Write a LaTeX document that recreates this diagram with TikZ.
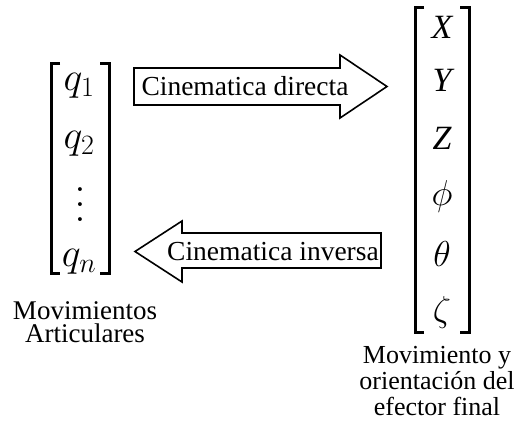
\RequirePackage{fix-cm}
\documentclass[tikz,border=0pt]{standalone}
\usepackage{fontspec}
\setmainfont{Liberation Serif}
\usepackage{amsmath}
\usepackage{tikz}
\usetikzlibrary{calc}
\tikzset{
  corchete/.style={line width=3pt,line join=miter},
  flecha/.style={draw,line width=1.6pt,line join=miter,fill=white},
  entrada/.style={inner sep=0pt,font=\fontsize{34}{40}\selectfont},
  rotulo/.style={inner sep=0pt,font=\fontsize{26}{26}\selectfont},
}
\newcommand{\puntosv}{\vbox{\baselineskip15pt\lineskiplimit0pt\hbox{$.$}\hbox{$.$}\hbox{$.$}}}

\begin{document}
\begin{tikzpicture}[x=1pt,y=-1pt]
\useasboundingbox (0,0) rectangle (516,423);
% vector articular
\node[entrada,anchor=base,font=\fontsize{40}{44}\selectfont] (q1) at (79,90) {$q_1$};
\node[entrada,anchor=base,font=\fontsize{40}{44}\selectfont] (q2) at (79,148) {$q_2$};
\node[entrada,font=\fontsize{40}{44}\selectfont] (qd) at (80,205) {\puntosv};
\node[entrada,anchor=base,font=\fontsize{40}{44}\selectfont] (qn) at (79,266) {$q_n$};
\draw[corchete] (60,63)--(51,63)--(51,273)--(60,273);
\draw[corchete] (100,63)--(109,63)--(109,273)--(100,273);
\node[rotulo,align=center,anchor=north,font=\fontsize{27}{23.5}\selectfont] (art) at (85,301) {Movimientos\\Articulares};
% vector del efector
\node[entrada] (X) at (442,27) {\itshape X};
\node[entrada] (Y) at (442,80) {\itshape Y};
\node[entrada] (Z) at (442,138) {\itshape Z};
\node[entrada,font=\fontsize{36}{40}\selectfont] (fi) at (442,196) {$\phi$};
\node[entrada,font=\fontsize{36}{40}\selectfont] (te) at (442,254) {$\theta$};
\node[entrada,font=\fontsize{36}{40}\selectfont] (ze) at (442,312) {$\zeta$};
\draw[corchete] (424,7)--(415,7)--(415,332)--(424,332);
\draw[corchete] (460,7)--(469,7)--(469,332)--(460,332);
\node[rotulo,align=center,anchor=north] (efe) at (437,346) {Movimiento y\\orientación del\\efector final};
% flechas
\draw[flecha] (134,68)--(340,68)--(340,55)--(387,86.5)--(340,118)--(340,105)--(134,105)--cycle;
\node[rotulo,anchor=base,font=\fontsize{27.5}{30}\selectfont] (dir) at (245,95) {Cinematica directa};
\draw[flecha] (381,233)--(182,233)--(182,221)--(135,251.5)--(182,282)--(182,268)--(381,268)--cycle;
\node[rotulo,anchor=base,font=\fontsize{27.5}{30}\selectfont] (inv) at (273,260) {Cinematica inversa};
\end{tikzpicture}
\end{document}
